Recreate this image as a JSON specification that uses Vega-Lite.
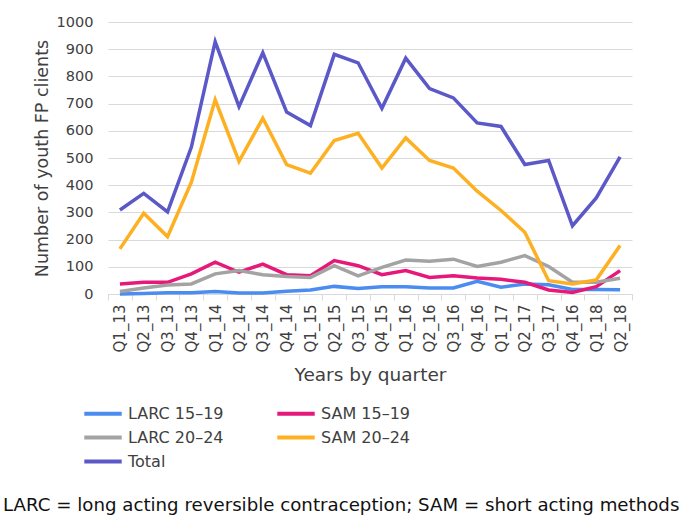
{
  "$schema": "https://vega.github.io/schema/vega-lite/v6.json",
  "width": 524,
  "height": 272,
  "autosize": {"type": "none"},
  "padding": {"left": 108, "top": 22, "right": 53, "bottom": 232},
  "background": "white",
  "config": {
    "font": "DejaVu Sans",
    "view": {"stroke": null}
  },
  "title": {
    "text": "LARC = long acting reversible contraception; SAM = short acting methods",
    "orient": "bottom",
    "anchor": "start",
    "frame": "group",
    "fontSize": 18.2,
    "fontWeight": "normal",
    "color": "#111111",
    "font": "DejaVu Sans",
    "offset": 27,
    "dx": -105
  },
  "data": {
    "values": [
      {"q":"Q1_13","s":"LARC 15–19","v":0},{"q":"Q2_13","s":"LARC 15–19","v":2},{"q":"Q3_13","s":"LARC 15–19","v":5},{"q":"Q4_13","s":"LARC 15–19","v":5},{"q":"Q1_14","s":"LARC 15–19","v":9},{"q":"Q2_14","s":"LARC 15–19","v":4},{"q":"Q3_14","s":"LARC 15–19","v":4},{"q":"Q4_14","s":"LARC 15–19","v":10},{"q":"Q1_15","s":"LARC 15–19","v":15},{"q":"Q2_15","s":"LARC 15–19","v":28},{"q":"Q3_15","s":"LARC 15–19","v":20},{"q":"Q4_15","s":"LARC 15–19","v":27},{"q":"Q1_16","s":"LARC 15–19","v":27},{"q":"Q2_16","s":"LARC 15–19","v":22},{"q":"Q3_16","s":"LARC 15–19","v":22},{"q":"Q4_16","s":"LARC 15–19","v":47},{"q":"Q1_17","s":"LARC 15–19","v":25},{"q":"Q2_17","s":"LARC 15–19","v":37},{"q":"Q3_17","s":"LARC 15–19","v":34},{"q":"Q4_16 ","s":"LARC 15–19","v":17},{"q":"Q1_18","s":"LARC 15–19","v":17},{"q":"Q2_18","s":"LARC 15–19","v":16},
      {"q":"Q1_13","s":"SAM 15–19","v":37},{"q":"Q2_13","s":"SAM 15–19","v":43},{"q":"Q3_13","s":"SAM 15–19","v":43},{"q":"Q4_13","s":"SAM 15–19","v":74},{"q":"Q1_14","s":"SAM 15–19","v":117},{"q":"Q2_14","s":"SAM 15–19","v":80},{"q":"Q3_14","s":"SAM 15–19","v":110},{"q":"Q4_14","s":"SAM 15–19","v":71},{"q":"Q1_15","s":"SAM 15–19","v":67},{"q":"Q2_15","s":"SAM 15–19","v":123},{"q":"Q3_15","s":"SAM 15–19","v":104},{"q":"Q4_15","s":"SAM 15–19","v":71},{"q":"Q1_16","s":"SAM 15–19","v":86},{"q":"Q2_16","s":"SAM 15–19","v":61},{"q":"Q3_16","s":"SAM 15–19","v":67},{"q":"Q4_16","s":"SAM 15–19","v":59},{"q":"Q1_17","s":"SAM 15–19","v":54},{"q":"Q2_17","s":"SAM 15–19","v":43},{"q":"Q3_17","s":"SAM 15–19","v":15},{"q":"Q4_16 ","s":"SAM 15–19","v":6},{"q":"Q1_18","s":"SAM 15–19","v":27},{"q":"Q2_18","s":"SAM 15–19","v":86},
      {"q":"Q1_13","s":"LARC 20–24","v":9},{"q":"Q2_13","s":"LARC 20–24","v":22},{"q":"Q3_13","s":"LARC 20–24","v":33},{"q":"Q4_13","s":"LARC 20–24","v":37},{"q":"Q1_14","s":"LARC 20–24","v":74},{"q":"Q2_14","s":"LARC 20–24","v":86},{"q":"Q3_14","s":"LARC 20–24","v":71},{"q":"Q4_14","s":"LARC 20–24","v":64},{"q":"Q1_15","s":"LARC 20–24","v":61},{"q":"Q2_15","s":"LARC 20–24","v":104},{"q":"Q3_15","s":"LARC 20–24","v":67},{"q":"Q4_15","s":"LARC 20–24","v":98},{"q":"Q1_16","s":"LARC 20–24","v":125},{"q":"Q2_16","s":"LARC 20–24","v":120},{"q":"Q3_16","s":"LARC 20–24","v":128},{"q":"Q4_16","s":"LARC 20–24","v":101},{"q":"Q1_17","s":"LARC 20–24","v":117},{"q":"Q2_17","s":"LARC 20–24","v":141},{"q":"Q3_17","s":"LARC 20–24","v":101},{"q":"Q4_16 ","s":"LARC 20–24","v":43},{"q":"Q1_18","s":"LARC 20–24","v":43},{"q":"Q2_18","s":"LARC 20–24","v":58},
      {"q":"Q1_13","s":"SAM 20–24","v":166},{"q":"Q2_13","s":"SAM 20–24","v":297},{"q":"Q3_13","s":"SAM 20–24","v":211},{"q":"Q4_13","s":"SAM 20–24","v":411},{"q":"Q1_14","s":"SAM 20–24","v":714},{"q":"Q2_14","s":"SAM 20–24","v":488},{"q":"Q3_14","s":"SAM 20–24","v":646},{"q":"Q4_14","s":"SAM 20–24","v":476},{"q":"Q1_15","s":"SAM 20–24","v":444},{"q":"Q2_15","s":"SAM 20–24","v":564},{"q":"Q3_15","s":"SAM 20–24","v":591},{"q":"Q4_15","s":"SAM 20–24","v":463},{"q":"Q1_16","s":"SAM 20–24","v":574},{"q":"Q2_16","s":"SAM 20–24","v":491},{"q":"Q3_16","s":"SAM 20–24","v":463},{"q":"Q4_16","s":"SAM 20–24","v":378},{"q":"Q1_17","s":"SAM 20–24","v":307},{"q":"Q2_17","s":"SAM 20–24","v":227},{"q":"Q3_17","s":"SAM 20–24","v":49},{"q":"Q4_16 ","s":"SAM 20–24","v":37},{"q":"Q1_18","s":"SAM 20–24","v":52},{"q":"Q2_18","s":"SAM 20–24","v":178},
      {"q":"Q1_13","s":"Total","v":309},{"q":"Q2_13","s":"Total","v":370},{"q":"Q3_13","s":"Total","v":302},{"q":"Q4_13","s":"Total","v":540},{"q":"Q1_14","s":"Total","v":928},{"q":"Q2_14","s":"Total","v":689},{"q":"Q3_14","s":"Total","v":887},{"q":"Q4_14","s":"Total","v":669},{"q":"Q1_15","s":"Total","v":619},{"q":"Q2_15","s":"Total","v":881},{"q":"Q3_15","s":"Total","v":850},{"q":"Q4_15","s":"Total","v":683},{"q":"Q1_16","s":"Total","v":867},{"q":"Q2_16","s":"Total","v":755},{"q":"Q3_16","s":"Total","v":721},{"q":"Q4_16","s":"Total","v":629},{"q":"Q1_17","s":"Total","v":616},{"q":"Q2_17","s":"Total","v":476},{"q":"Q3_17","s":"Total","v":491},{"q":"Q4_16 ","s":"Total","v":251},{"q":"Q1_18","s":"Total","v":353},{"q":"Q2_18","s":"Total","v":504}
    ]
  },
  "mark": {"type": "line", "strokeWidth": 3.5, "strokeJoin": "miter", "strokeCap": "butt"},
  "encoding": {
    "x": {
      "field": "q",
      "type": "ordinal",
      "sort": null,
      "bandPosition": 0.5,
      "scale": {"type": "band", "paddingInner": 0, "paddingOuter": 0},
      "axis": {
        "title": "Years by quarter",
        "titleFontSize": 18.5,
        "titleFontWeight": "normal",
        "titleColor": "#404040",
        "titlePadding": 14,
        "labelAngle": 270,
        "labelFontSize": 15,
        "labelColor": "#404040",
        "labelPadding": 4,
        "tickBand": "extent",
        "tickColor": "#d9d9d9",
        "tickSize": 6,
        "domainColor": "#d9d9d9",
        "domainWidth": 1,
        "grid": false
      }
    },
    "y": {
      "field": "v",
      "type": "quantitative",
      "scale": {"domain": [0, 1000], "nice": false},
      "axis": {
        "title": "Number of youth FP clients",
        "titleFontSize": 17.5,
        "titleFontWeight": "normal",
        "titleColor": "#404040",
        "titlePadding": 5,
        "values": [0,100,200,300,400,500,600,700,800,900,1000],
        "format": "d",
        "labelFontSize": 14.5,
        "labelColor": "#404040",
        "labelPadding": 15,
        "ticks": false,
        "domain": false,
        "gridColor": "#d9d9d9",
        "gridWidth": 1.2
      }
    },
    "color": {
      "field": "s",
      "type": "nominal",
      "scale": {
        "domain": ["LARC 15–19", "LARC 20–24", "Total", "SAM 15–19", "SAM 20–24"],
        "range": ["#4b8cf0", "#a3a3a3", "#5b58c8", "#e6197b", "#fdb022"]
      },
      "legend": {
        "title": null,
        "orient": "none",
        "legendX": -16.5,
        "legendY": 380,
        "columns": 2,
        "columnPadding": 44,
        "rowPadding": 4,
        "symbolType": "M-2,0H2",
        "symbolSize": 350,
        "symbolStrokeWidth": 4,
        "labelFontSize": 16,
        "labelColor": "#404040",
        "labelOffset": 13.5,
        "labelLimit": 200
      }
    }
  }
}
